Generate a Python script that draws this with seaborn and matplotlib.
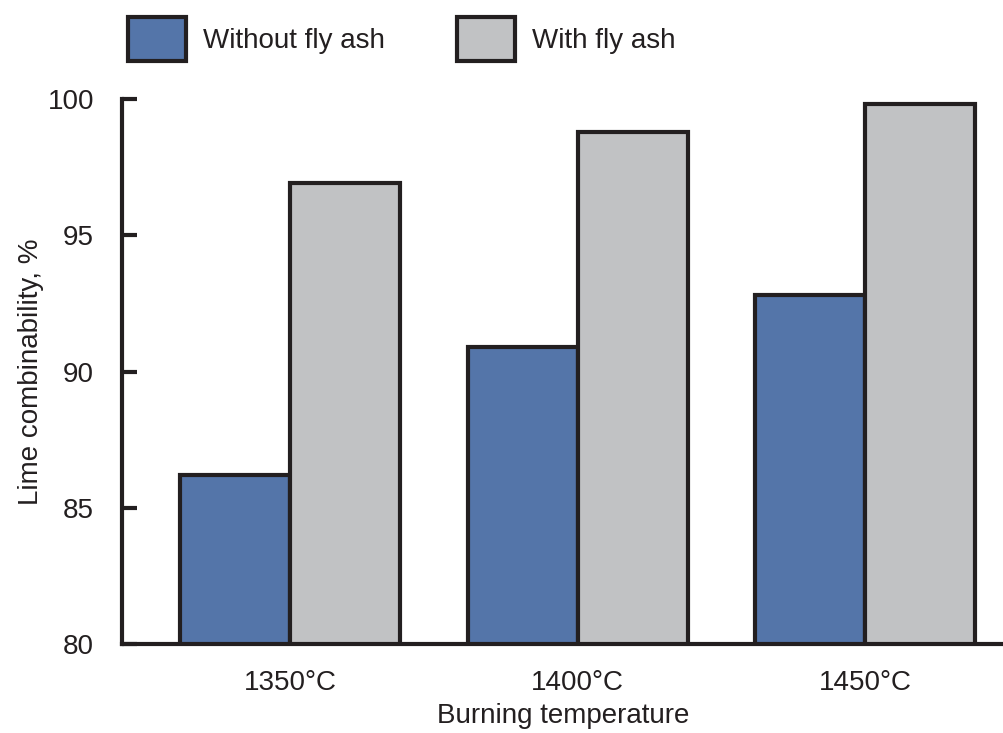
import pandas as pd
import matplotlib
matplotlib.use('Agg')
import matplotlib.pyplot as plt
import seaborn as sns

# values
temperatures = ["1350°C", "1400°C", "1450°C"]
without_fly_ash = [86.2, 90.9, 92.8]
with_fly_ash = [96.9, 98.8, 99.8]
series_names = ["Without fly ash", "With fly ash"]

df = pd.DataFrame({
    "temperature": temperatures * 2,
    "value": without_fly_ash + with_fly_ash,
    "series": [series_names[0]] * 3 + [series_names[1]] * 3,
})

sns.set_style("white")
plt.rcParams['font.family'] = ['Liberation Sans', 'DejaVu Sans']
INK = "#231f20"
COLORS = ["#5475a9", "#c1c2c4"]

fig = plt.figure(figsize=(10.04, 7.33), dpi=100)
ax = fig.add_axes([122 / 1004, 89 / 733, 882 / 1004, 545 / 733])

sns.barplot(
    data=df, x="temperature", y="value", hue="series",
    palette=COLORS, saturation=1, width=0.765,
    edgecolor=INK, linewidth=3, ax=ax, legend=False,
)

ax.set_ylim(80, 100)
ax.set_xlim(-0.584, 2.483)
ax.set_yticks([80, 85, 90, 95, 100])
sns.despine(ax=ax)
for side in ["left", "bottom"]:
    ax.spines[side].set_color(INK)
    ax.spines[side].set_linewidth(3)
ax.tick_params(axis="y", direction="in", length=11, width=3, color=INK,
               pad=20, labelsize=20, labelcolor=INK, left=True)
ax.tick_params(axis="x", length=0, pad=19, labelsize=20, labelcolor=INK)

ax.set_xlabel("Burning temperature", fontsize=20, color=INK, labelpad=5)
ax.set_ylabel("Lime combinability, %", fontsize=20, color=INK, labelpad=3)

handles = [plt.Rectangle((0, 0), 1, 1, facecolor=c, edgecolor=INK, linewidth=3)
           for c in COLORS]
fig.legend(handles, series_names, loc="upper left", ncol=2, frameon=False,
           bbox_to_anchor=(114 / 1004, 1 - 3 / 733), borderpad=0,
           fontsize=20, handlelength=2.1, handleheight=2.05,
           handletextpad=0.6, columnspacing=2.6, labelcolor=INK)

fig.savefig("out.png", dpi=100)
